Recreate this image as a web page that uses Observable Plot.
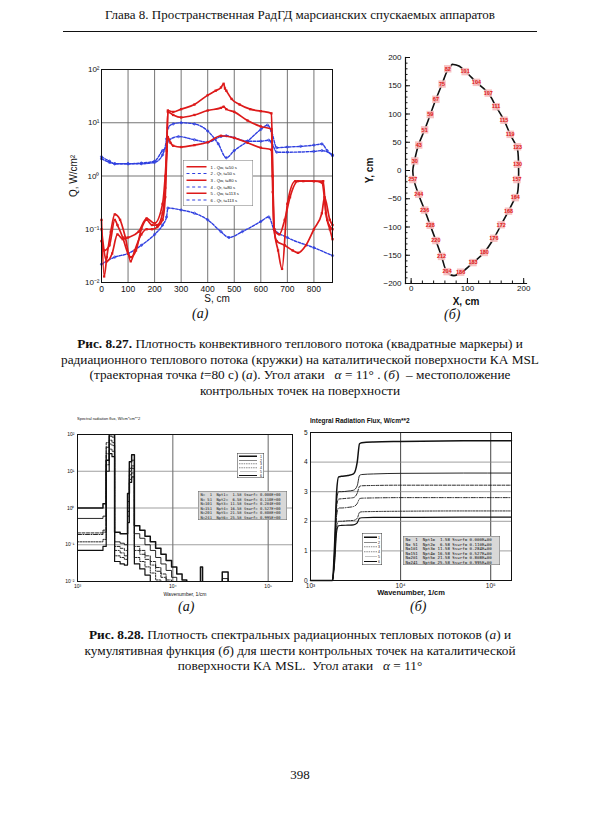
<!DOCTYPE html>
<html><head><meta charset="utf-8">
<script src="https://cdn.jsdelivr.net/npm/d3@7"></script>
<script src="https://cdn.jsdelivr.net/npm/@observablehq/plot@0.6"></script>
<style>
body{margin:0;background:#fff}
#page{position:relative;width:600px;height:815px;overflow:hidden;background:#fff;font-family:"Liberation Serif","Times New Roman",serif;color:#111}
.abs{position:absolute}
.hdr{left:0;width:600px;top:7px;text-align:center;font-size:13px}
.rule{left:63px;width:474px;top:31px;height:0;border-top:1px solid #111}
.cap{left:0;width:600px;text-align:center;font-size:13.3px;line-height:15.7px}
.sub{font-style:italic;font-size:14px}
.tiny{transform:scale(0.5);transform-origin:0 0;font-family:"Liberation Sans",Arial,sans-serif;color:#111}
.leg{background:#fff;border:1px solid #777;box-sizing:border-box}
.row{display:flex;align-items:center;white-space:nowrap}
.smp{display:inline-block;height:0}
.info{background:#d8d8d8;border:1px solid #666;box-sizing:border-box;font-family:"DejaVu Sans Mono",monospace}
</style></head>
<body><div id="page">
<div class="abs hdr">Глава 8. Пространственная РадГД марсианских спускаемых аппаратов</div>
<div class="abs rule"></div>
<div id="c1" class="abs" style="left:60px;top:55px"></div>
<div id="c2" class="abs" style="left:360px;top:45px"></div>
<div id="c3" class="abs" style="left:55px;top:410px"></div>
<div id="c4" class="abs" style="left:290px;top:420px"></div>
<div id="leg1" class="abs tiny leg" style="left:183px;top:160px;width:140px;height:92px;padding:6px 6px"></div>
<div id="t3" class="abs tiny" style="left:77px;top:416px;font-size:8px;white-space:nowrap">Spectral radiation flux, W/cm*cm**2</div>
<div id="t4" class="abs tiny" style="left:310px;top:417px;font-size:13px;font-weight:bold;white-space:nowrap">Integral Radiation Flux, W/cm**2</div>
<div id="leg3" class="abs tiny leg" style="left:237px;top:453px;width:54px;height:50px;padding:2px 3px;border-color:#333"></div>
<div id="info3" class="abs tiny info" style="left:198px;top:491px;width:178px;height:58px;padding:2px 4px;font-size:7.6px;line-height:9px"></div>
<div id="leg4" class="abs tiny leg" style="left:362px;top:533px;width:40px;height:64px;padding:3px 3px;border-color:#333"></div>
<div id="info4" class="abs tiny info" style="left:403px;top:536px;width:194px;height:58px;padding:2px 4px;font-size:8.2px;line-height:9px"></div>
<div class="abs sub" style="left:192px;top:306px">(а)</div>
<div class="abs sub" style="left:444px;top:307px">(б)</div>
<div class="abs cap" style="top:336px"><b>Рис. 8.27.</b> Плотность конвективного теплового потока (квадратные маркеры) и<br>радиационного теплового потока (кружки) на каталитической поверхности КА MSL<br>(траекторная точка <i>t</i>=80 с) (<i>а</i>). Угол атаки &nbsp;&nbsp;<i>α</i> = 11° . (<i>б</i>) &nbsp;– местоположение<br>контрольных точек на поверхности</div>
<div class="abs sub" style="left:178px;top:599px">(а)</div>
<div class="abs sub" style="left:410px;top:599px">(б)</div>
<div class="abs cap" style="top:627px"><b>Рис. 8.28.</b> Плотность спектральных радиационных тепловых потоков (<i>а</i>) и<br>кумулятивная функция (<i>б</i>) для шести контрольных точек на каталитической<br>поверхности КА MSL. &nbsp;Угол атаки &nbsp;&nbsp;<i>α</i> = 11°</div>
<div class="abs" style="left:0;width:600px;top:767px;text-align:center;font-size:13px">398</div>
</div>
<script>
// ---------- Fig 8.27 (a): heat flux along surface ----------
const S_TICKS = [0, 100, 200, 300, 400, 500, 600, 700, 800];
const Q_TICKS = [0.01, 0.1, 1, 10, 100];
const legend1 = ["1 - Qw, t=50 s", "2 - Qr, t=50 s", "3 - Qw, t=80 s", "4 - Qr, t=80 s", "5 - Qw, t=113 s", "6 - Qr, t=113 s"];

const qw1S = [0, 10, 20, 35, 50, 70, 90, 110, 125, 150, 170, 190, 210, 230, 240, 246, 250, 270, 300, 350, 400, 430, 450, 460, 465, 470, 490, 520, 560, 600, 640, 645, 650, 665, 680, 700, 730, 760, 800, 835, 845, 860, 870];
const qw1Q = [0.15, 0.013, 0.03, 0.09, 0.19, 0.15, 0.07, 0.025, 0.04, 0.08, 0.1, 0.1, 0.11, 0.15, 0.4, 3, 17, 16, 18, 22, 33, 40, 46, 54, 44, 40, 28, 22, 18, 16.5, 15, 1, 0.1, 0.04, 0.018, 0.3, 0.8, 0.8, 0.8, 0.8, 0.2, 0.1, 0.065];
const qw2S = [0, 10, 30, 50, 60, 80, 100, 110, 130, 150, 170, 190, 210, 230, 240, 246, 250, 270, 300, 350, 400, 450, 460, 470, 500, 550, 600, 640, 645, 650, 660, 690, 720, 740, 770, 800, 830, 840, 860, 870];
const qw2Q = [0.06, 0.04, 0.05, 0.15, 0.12, 0.07, 0.035, 0.03, 0.04, 0.1, 0.15, 0.12, 0.12, 0.2, 0.6, 4, 16, 14, 12.6, 14, 17, 19, 20, 18, 16, 11, 8.5, 7.6, 1, 0.1, 0.06, 0.05, 0.04, 0.036, 0.05, 0.1, 0.2, 0.4, 0.15, 0.12];
const qw3S = [0, 20, 40, 60, 80, 100, 140, 170, 200, 230, 240, 246, 250, 260, 270, 300, 350, 400, 450, 500, 550, 600, 640, 645, 650, 670, 690, 710, 740, 800, 830, 850, 870];
const qw3Q = [0.1, 0.025, 0.035, 0.08, 0.065, 0.07, 0.09, 0.16, 0.13, 0.3, 1, 3, 5.4, 4.2, 3.7, 3.5, 3.8, 4.3, 5.7, 5.2, 4.2, 3.4, 3.1, 0.5, 0.1, 0.08, 0.15, 0.4, 0.8, 0.8, 0.75, 0.15, 0.1];
const qr1S = [0, 30, 50, 100, 150, 200, 230, 245, 250, 270, 300, 350, 400, 440, 470, 500, 550, 600, 625, 640, 660, 700, 750, 800, 830, 850, 870];
const qr1Q = [2.3, 1.9, 1.7, 1.7, 1.7, 1.8, 2.5, 5, 8, 9.5, 10, 9.5, 7, 4, 2.2, 3, 4.5, 7.5, 9, 7, 3.4, 3.5, 3.6, 3.8, 4, 3, 2.4];
const qr2S = [0, 30, 50, 100, 150, 200, 230, 245, 250, 290, 350, 400, 450, 470, 500, 550, 600, 630, 640, 660, 700, 800, 830, 870];
const qr2Q = [2.1, 1.8, 1.7, 1.7, 1.75, 1.9, 3, 3.5, 4.5, 5.5, 4.8, 4.3, 5.5, 5.7, 5.2, 4.5, 4.5, 4.7, 4.3, 2.8, 2.8, 2.9, 3, 2.5];
const qr3S = [0, 50, 100, 150, 200, 230, 245, 250, 300, 350, 400, 450, 480, 530, 600, 630, 650, 700, 800, 870];
const qr3Q = [0.022, 0.03, 0.035, 0.05, 0.08, 0.12, 0.17, 0.25, 0.23, 0.2, 0.15, 0.09, 0.07, 0.09, 0.14, 0.17, 0.1, 0.07, 0.045, 0.032];

// ---------- Fig 8.27 (б): control points ----------
const contourX = [73, 85, 100, 116, 137, 151, 165, 176, 186, 189, 189, 185, 173, 160, 147, 130, 110, 90, 76, 64, 54, 44, 34, 24, 13, 5, 3, 6, 13, 24, 34, 44, 55, 64, 73];
const contourY = [188, 185, 172, 156, 137, 113, 89, 64, 45, 38, -40, -48, -72, -96, -120, -145, -163, -180, -186, -180, -152, -124, -97, -70, -42, -17, 0, 17, 45, 72, 99, 126, 153, 176, 188];
const pointIds = [82, 101, 104, 107, 111, 115, 119, 123, 130, 157, 164, 168, 172, 176, 180, 183, 186, 204, 212, 220, 228, 236, 244, 257, 30, 43, 51, 59, 67, 75];
const pointX = [65, 96, 116, 137, 151, 165, 176, 189, 189, 188, 185, 173, 160, 147, 130, 110, 88, 64, 54, 44, 34, 24, 13.5, 3, 6.4, 13.5, 24, 34, 44, 55];
const pointY = [180, 175, 156, 137, 113, 89, 64, 42, 11, -16, -48, -72, -96, -120, -145, -163, -180, -179, -152, -124, -97, -70, -42, -16, 17, 45, 72, 99, 126, 153];
const XY_TICKS_X = [0, 100, 200];
const XY_TICKS_Y = [-200, -150, -100, -50, 0, 50, 100, 150, 200];

// ---------- Fig 8.28 (a): spectral flux, step spectra ----------
const wnSpec = [1000, 1850, 2000, 2150, 2300, 2450, 2800, 3100, 3350, 3500, 3700, 3950, 4500, 5100, 5800, 6600, 7500, 8500, 9700, 11000, 12500, 14000, 19500, 20500, 33000, 38000, 180000];
const spec1 = [1.0, 1.3, 20, 100, 100, 0.22, 0.2, 0.2, 2.5, 18, 28, 0.33, 0.25, 0.17, 0.12, 0.08, 0.055, 0.037, 0.025, 0.016, 0.011, 0.005, 0.025, 0.005, 0.018, 0.005, 0.005];
const spec2 = [0.52, 0.6, 45, 90, 85, 0.12, 0.11, 0.1, 1.5, 12, 20, 0.2, 0.15, 0.1, 0.07, 0.045, 0.03, 0.02, 0.013, 0.008, 0.005, 0.005, 0.005, 0.005, 0.012, 0.005, 0.005];
const spec3 = [0.21, 0.25, 60, 70, 60, 0.09, 0.08, 0.07, 1.0, 10, 14, 0.09, 0.07, 0.05, 0.035, 0.024, 0.016, 0.011, 0.006, 0.005, 0.005, 0.005, 0.005, 0.005, 0.005, 0.005, 0.005];
const spec4 = [0.19, 0.22, 30, 55, 50, 0.07, 0.06, 0.05, 0.8, 8, 12, 0.07, 0.055, 0.04, 0.028, 0.019, 0.013, 0.008, 0.005, 0.005, 0.005, 0.005, 0.005, 0.005, 0.005, 0.005, 0.005];
const spec5 = [0.12, 0.14, 15, 40, 35, 0.05, 0.045, 0.04, 0.6, 6, 9, 0.045, 0.035, 0.025, 0.017, 0.011, 0.007, 0.005, 0.005, 0.005, 0.005, 0.005, 0.005, 0.005, 0.005, 0.005, 0.005];
const spec6 = [0.07, 0.09, 10, 30, 25, 0.035, 0.03, 0.028, 0.4, 5, 7, 0.03, 0.022, 0.015, 0.01, 0.006, 0.005, 0.005, 0.005, 0.005, 0.005, 0.005, 0.005, 0.005, 0.005, 0.005, 0.005];
const WN_TICKS = [1000, 10000, 100000];
const SPEC_TICKS = [0.01, 0.1, 1, 10, 100];

// ---------- Fig 8.28 (б): cumulative flux ----------
const wnCum = [1000, 1750, 1850, 1950, 2050, 2200, 2600, 3000, 3300, 3500, 3700, 5000, 10000, 50000, 170000];
const cum1 = [0, 0, 1.2, 3.0, 3.5, 3.52, 3.55, 3.6, 4.0, 4.62, 4.65, 4.68, 4.7, 4.72, 4.72];
const cum2 = [0, 0, 1.0, 2.7, 3.0, 3.0, 3.02, 3.05, 3.2, 3.55, 3.58, 3.6, 3.62, 3.63, 3.63];
const cum3 = [0, 0, 0.9, 2.5, 2.75, 2.76, 2.78, 2.8, 2.95, 3.18, 3.2, 3.21, 3.22, 3.22, 3.22];
const cum4 = [0, 0, 0.8, 2.2, 2.45, 2.45, 2.47, 2.5, 2.6, 2.76, 2.78, 2.79, 2.8, 2.8, 2.8];
const cum5 = [0, 0, 0.7, 1.8, 2.0, 2.0, 2.02, 2.03, 2.1, 2.3, 2.32, 2.33, 2.34, 2.35, 2.35];
const cum6 = [0, 0, 0.6, 1.65, 1.85, 1.86, 1.87, 1.88, 1.95, 2.1, 2.12, 2.13, 2.13, 2.14, 2.14];
const CUM_TICKS = [0, 1, 2, 3, 4, 5];
const infoRows = ["N=  1  Npt1=  1.58 Ssurf= 0.000E+00", "N= 51  Npt2=  6.58 Ssurf= 0.110E+00", "N=101  Npt3= 11.58 Ssurf= 0.284E+00", "N=151  Npt4= 16.58 Ssurf= 0.527E+00", "N=201  Npt5= 21.58 Ssurf= 0.808E+00", "N=241  Npt6= 25.58 Ssurf= 0.995E+00"];
const seriesNames = ["1", "2", "3", "4", "5", "6"];

// ---------- helpers ----------
const SUP = {"-": "⁻", "0": "⁰", "1": "¹", "2": "²", "3": "³", "4": "⁴", "5": "⁵"};
const pow10 = v => "10" + String(Math.round(Math.log10(v))).replace(/./g, c => SUP[c]);
const zip = (xs, ys, key, extra) => xs.map((x, i) => ({x, y: ys[i], series: key, ...extra}));
const sans = "'Liberation Sans', Arial, Helvetica, sans-serif";

// ---------- chart 1 ----------
const qw = [zip(qw1S, qw1Q, "1"), zip(qw2S, qw2Q, "3"), zip(qw3S, qw3Q, "5")].flat();
const qr = [zip(qr1S, qr1Q, "2"), zip(qr2S, qr2Q, "4"), zip(qr3S, qr3Q, "6")].flat();
const RED = "#dd1a1a", BLUE = "#2f3fe0";
const c1 = Plot.plot({
  width: 280, height: 250, marginLeft: 41, marginRight: 8, marginTop: 14, marginBottom: 23,
  style: {fontFamily: sans, fontSize: "8.5px", background: "transparent", overflow: "visible", color: "#111"},
  x: {domain: [0, 870]},
  y: {type: "log", domain: [0.01, 100]},
  marks: [
    Plot.gridX(S_TICKS, {stroke: "#666", strokeOpacity: 0.9, strokeWidth: 1}),
    Plot.gridY(Q_TICKS, {stroke: "#666", strokeOpacity: 0.9, strokeWidth: 1}),
    Plot.line(qr, {x: "x", y: "y", z: "series", stroke: BLUE, strokeWidth: 1.4, strokeDasharray: "2.5,1.5", curve: "monotone-x"}),
    Plot.dot(qr, {x: "x", y: "y", r: 1.1, stroke: BLUE, strokeWidth: 0.8}),
    Plot.line(qw, {x: "x", y: "y", z: "series", stroke: RED, strokeWidth: 1.7, curve: "monotone-x"}),
    Plot.dot(qw, {x: "x", y: "y", r: 1.3, symbol: "square", fill: RED}),
    Plot.frame({stroke: "#111", strokeWidth: 1}),
    Plot.axisX({ticks: S_TICKS, tickSize: 0, tickPadding: 3, label: "S, cm", labelAnchor: "center", labelOffset: 19, labelArrow: "none", fontSize: "8.5px"}),
    Plot.axisY({ticks: Q_TICKS, tickFormat: pow10, tickSize: 0, tickPadding: 2, label: "Q, W/cm²", labelAnchor: "center", labelOffset: 32, labelArrow: "none", fontSize: "8px"})
  ]
});
c1.querySelectorAll("[aria-label='y-axis label'] text, [aria-label='x-axis label'] text").forEach(t => t.style.fontSize = "10px");
document.getElementById("c1").append(c1);

const leg1 = document.getElementById("leg1");
legend1.forEach((t, i) => {
  const red = i % 2 === 0;
  const row = document.createElement("div");
  row.className = "row";
  row.style.height = "13.3px";
  row.style.fontSize = "8.5px";
  row.innerHTML = `<span class="smp" style="width:40px;margin-right:8px;border-top:${red ? "3px solid " + RED : "2.5px dashed " + BLUE}"></span>${t}`;
  leg1.append(row);
});

// ---------- chart 2 ----------
const contour = contourX.map((x, i) => ({x, y: contourY[i]}));
const pts = pointIds.map((id, i) => ({id: String(id), x: pointX[i], y: pointY[i]}));
const c2 = Plot.plot({
  width: 180, height: 265, marginLeft: 45, marginRight: 14, marginTop: 12, marginBottom: 27,
  style: {fontFamily: sans, fontSize: "8px", background: "transparent", overflow: "visible", color: "#111"},
  x: {domain: [-10, 205]},
  y: {domain: [-200, 200]},
  marks: [
    Plot.frame({anchor: "left", stroke: "#111", strokeWidth: 1.2}),
    Plot.frame({anchor: "bottom", stroke: "#111", strokeWidth: 1.2}),
    Plot.line(contour, {x: "x", y: "y", stroke: "#111", strokeWidth: 1.6, curve: "catmull-rom"}),
    Plot.dot(pts, {x: "x", y: "y", symbol: "square", r: 4.2, fill: "#f7bcbc", fillOpacity: 0.9}),
    Plot.text(pts, {x: "x", y: "y", text: "id", fill: "#e01818", fontSize: 5.5, fontWeight: "bold"}),
    Plot.axisY({ticks: d3.range(-200, 201, 10), tickSize: -2.5, tickFormat: () => "", label: null}),
    Plot.axisX({ticks: d3.range(0, 201, 20), tickSize: -2.5, tickFormat: () => "", label: null}),
    Plot.axisY({ticks: XY_TICKS_Y, tickSize: 0, tickPadding: 4, label: "Y, cm", labelAnchor: "center", labelOffset: 40, labelArrow: "none"}),
    Plot.axisX({ticks: XY_TICKS_X, tickSize: 0, tickPadding: 2, label: "X, cm", labelAnchor: "center", labelOffset: 21, labelArrow: "none"}),
    Plot.axisY({ticks: XY_TICKS_Y, tickSize: -5, tickFormat: () => "", label: null}),
    Plot.axisX({ticks: XY_TICKS_X, tickSize: -5, tickFormat: () => "", label: null})
  ]
});
c2.querySelectorAll("[aria-label='y-axis label'] text, [aria-label='x-axis label'] text").forEach(t => {t.style.fontSize = "10px"; t.style.fontWeight = "bold";});
document.getElementById("c2").append(c2);

// ---------- chart 3 ----------
const STYLES = [
  {strokeWidth: 1.5, strokeDasharray: null},
  {strokeWidth: 0.9, strokeDasharray: null},
  {strokeWidth: 0.9, strokeDasharray: "3,1.5"},
  {strokeWidth: 0.9, strokeDasharray: "4,1.5,1,1.5"},
  {strokeWidth: 0.9, strokeDasharray: "1.5,1.2"},
  {strokeWidth: 1.2, strokeDasharray: null}
];
const specs = [spec1, spec2, spec3, spec4, spec5, spec6];
const c3 = Plot.plot({
  width: 245, height: 185, marginLeft: 22, marginRight: 8, marginTop: 24, marginBottom: 14,
  style: {fontFamily: sans, fontSize: "5px", background: "transparent", overflow: "visible", color: "#111"},
  x: {type: "log", domain: [1000, 180000]},
  y: {type: "log", domain: [0.01, 100]},
  marks: [
    Plot.gridX([10000, 100000], {stroke: "#555", strokeOpacity: 1, strokeWidth: 0.9}),
    Plot.gridY([0.1, 1, 10], {stroke: "#777", strokeOpacity: 1, strokeWidth: 0.7}),
    ...specs.map((s, k) => Plot.line(zip(wnSpec, s, seriesNames[k]), {x: "x", y: "y", stroke: "#111", curve: "step-after", clip: true, ...STYLES[k]})),
    Plot.frame({stroke: "#111", strokeWidth: 1}),
    Plot.axisX({ticks: WN_TICKS, tickFormat: pow10, tickSize: 0, tickPadding: 3, label: "Wavenumber, 1/cm", labelAnchor: "center", labelOffset: 14, labelArrow: "none"}),
    Plot.axisY({ticks: SPEC_TICKS, tickFormat: pow10, tickSize: 0, tickPadding: 3, label: null})
  ]
});
document.getElementById("c3").append(c3);

// ---------- chart 4 ----------
const cums = [cum1, cum2, cum3, cum4, cum5, cum6];
const c4 = Plot.plot({
  width: 240, height: 180, marginLeft: 20, marginRight: 19, marginTop: 12, marginBottom: 20,
  style: {fontFamily: sans, fontSize: "6.5px", background: "transparent", overflow: "visible", color: "#111"},
  x: {type: "log", domain: [1000, 170000]},
  y: {domain: [0, 5]},
  marks: [
    Plot.gridX([10000, 100000], {stroke: "#444", strokeOpacity: 1, strokeWidth: 1}),
    Plot.gridY([1, 2, 3, 4], {stroke: "#888", strokeOpacity: 1, strokeWidth: 0.8}),
    ...cums.map((s, k) => Plot.line(zip(wnCum, s, seriesNames[k]), {x: "x", y: "y", stroke: "#111", curve: "monotone-x", ...STYLES[k]})),
    Plot.frame({stroke: "#111", strokeWidth: 1}),
    Plot.axisX({ticks: WN_TICKS, tickFormat: pow10, tickSize: 0, tickPadding: 3, label: "Wavenumber, 1/cm", labelAnchor: "center", labelOffset: 14, labelArrow: "none"}),
    Plot.axisY({ticks: CUM_TICKS, tickFormat: d => String(d), tickSize: 0, tickPadding: 3, label: null})
  ]
});
c4.querySelectorAll("[aria-label='x-axis label'] text").forEach(t => {t.style.fontSize = "7.5px"; t.style.fontWeight = "bold";});
document.getElementById("c4").append(c4);

// ---------- legends for charts 3,4 ----------
function seriesLegend(id, rowH, w) {
  const el = document.getElementById(id);
  seriesNames.forEach((n, k) => {
    const st = STYLES[k];
    const row = document.createElement("div");
    row.className = "row";
    row.style.height = rowH + "px";
    row.style.fontSize = "7px";
    row.style.justifyContent = "space-between";
    row.innerHTML = `<span class="smp" style="width:${w}px;border-top:${st.strokeWidth * 2}px ${st.strokeDasharray ? (k === 4 ? "dotted" : "dashed") : "solid"} #111"></span><span>${n}</span>`;
    el.append(row);
  });
}
seriesLegend("leg3", 7.6, 36);
seriesLegend("leg4", 9.6, 26);
["info3", "info4"].forEach(id => {
  const el = document.getElementById(id);
  infoRows.forEach(r => { const d = document.createElement("div"); d.style.whiteSpace = "pre"; d.textContent = r; el.append(d); });
});
</script>
</body></html>
